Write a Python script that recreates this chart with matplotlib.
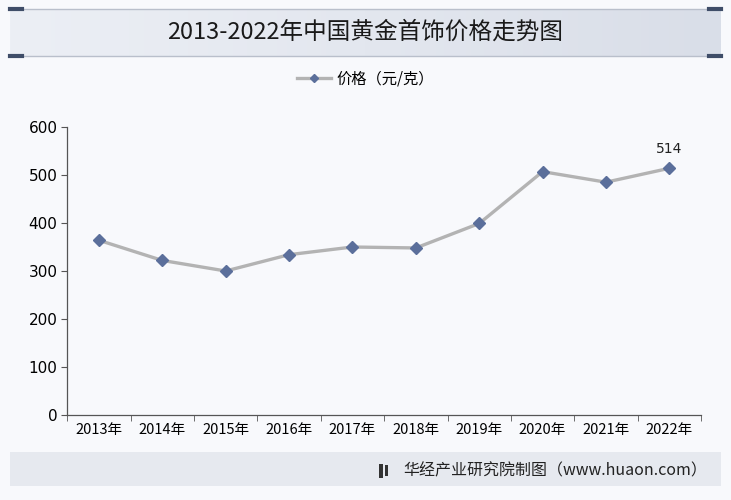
import matplotlib
matplotlib.use("Agg")
import matplotlib.pyplot as plt
from matplotlib.patches import Rectangle
import numpy as np

plt.rcParams['font.family'] = ['Noto Sans CJK SC', 'DejaVu Sans']

# --- datos ---
years = ['2013年', '2014年', '2015年', '2016年', '2017年',
         '2018年', '2019年', '2020年', '2021年', '2022年']
price = [364, 322, 300, 334, 350, 348, 399, 507, 485, 514]
series_name = '价格（元/克）'
title = '2013-2022年中国黄金首饰价格走势图'
source = '华经产业研究院制图（www.huaon.com）'

fig = plt.figure(figsize=(7.31, 5.0), dpi=100)
fig.patch.set_facecolor('#f8f9fc')

# banda del título
band = fig.add_axes([0.014, 0.888, 0.972, 0.093])
band.set_xlim(0, 1); band.set_ylim(0, 1); band.axis('off')
grad = np.linspace(0, 1, 256).reshape(1, -1)
band.imshow(np.vstack([grad, grad]), extent=[0, 1, 0, 1], aspect='auto',
            cmap=matplotlib.colors.LinearSegmentedColormap.from_list(
                'b', ['#eceff5', '#e3e7ef', '#d9dee8']))
for yy in (0.982, 0.888):
    fig.add_artist(plt.Line2D([0.014, 0.986], [yy, yy], color='#b9bfcb', lw=1.0))
    fig.add_artist(plt.Line2D([0.014, 0.03], [yy, yy], color='#3f4d68', lw=3))
    fig.add_artist(plt.Line2D([0.97, 0.986], [yy, yy], color='#3f4d68', lw=3))
fig.text(0.5, 0.935, title, ha='center', va='center', fontsize=17,
         fontweight='medium', color='#1a1a1a')

# banda del pie
fig.add_artist(Rectangle((0.014, 0.028), 0.972, 0.068, transform=fig.transFigure,
                         facecolor='#e6e9ef', edgecolor='none', zorder=0))
fig.text(0.968, 0.058, source, ha='right', va='center', fontsize=11.5, color='#222222')
fig.add_artist(Rectangle((0.518, 0.045), 0.006, 0.028, transform=fig.transFigure,
                         facecolor='#333333', edgecolor='none'))
fig.add_artist(Rectangle((0.527, 0.048), 0.004, 0.022, transform=fig.transFigure,
                         facecolor='#333333', edgecolor='none'))

# --- gráfico ---
ax = fig.add_axes([0.092, 0.170, 0.867, 0.576])
ax.set_facecolor('none')
x = np.arange(len(years))
ax.plot(x, price, color='#b3b3b3', lw=2.4, marker='D', markersize=6.5,
        markerfacecolor='#5b6f9b', markeredgecolor='#5b6f9b', label=series_name, zorder=3)
ax.annotate(str(price[-1]), (x[-1], price[-1]), xytext=(0, 9), textcoords='offset points',
            ha='center', va='bottom', fontsize=10, family=['DejaVu Sans'], color='#222222')

ax.set_xlim(-0.5, len(years) - 0.5)
ax.set_ylim(0, 600)
ax.set_yticks(range(0, 601, 100))
ax.set_xticks(x)
ax.set_xticklabels(years, fontsize=10.5)
ax.set_xticks(np.arange(-0.5, len(years), 1), minor=True)
ax.tick_params(axis='x', which='major', length=0, pad=6)
ax.tick_params(axis='x', which='minor', length=4, color='#555555')
ax.tick_params(axis='y', labelsize=11, length=4, color='#555555', pad=3)
for lab in ax.get_yticklabels():
    lab.set_family(['DejaVu Sans'])
for s in ['top', 'right']:
    ax.spines[s].set_visible(False)
for s in ['left', 'bottom']:
    ax.spines[s].set_color('#555555')
    ax.spines[s].set_linewidth(0.9)

fig.legend(loc='center', bbox_to_anchor=(0.5, 0.843), frameon=False, fontsize=11,
           handlelength=2.2, handletextpad=0.4, markerscale=0.6)

fig.savefig('out.png', dpi=100, facecolor=fig.get_facecolor())
